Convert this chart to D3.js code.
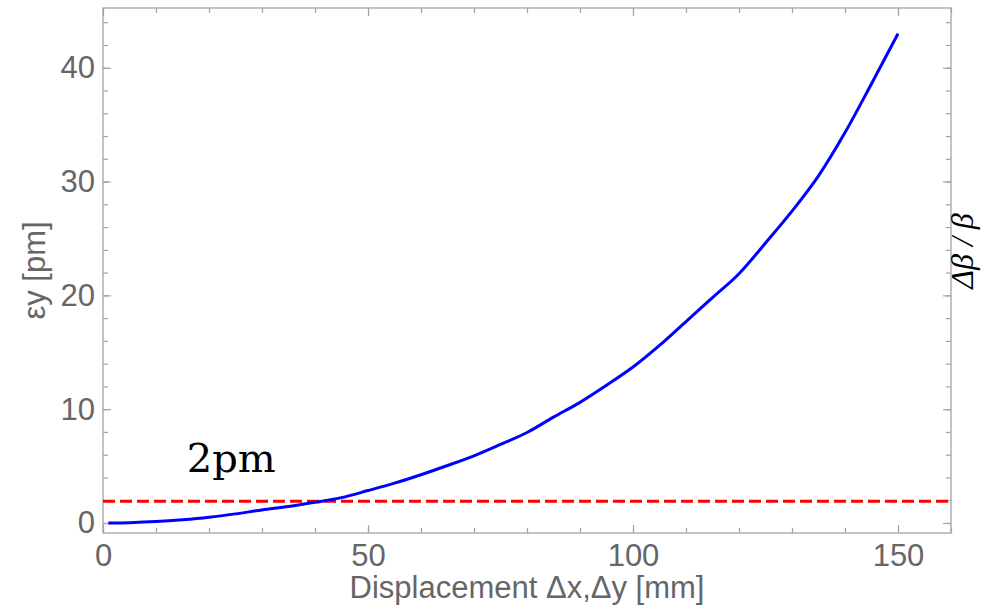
<!DOCTYPE html>
<html lang="en">
<head>
<meta charset="UTF-8">
<title>Emittance vs displacement</title>
<style>
  body { margin: 0; background: #fff; }
  .tick text { font-family: "Liberation Sans", Arial, sans-serif; }
</style>
</head>
<body>
<div id="chart"></div>
<script src="https://d3js.org/d3.v7.min.js"></script>
<script>
// displacement [mm] and vertical emittance [pm]
var displacement = [1, 5, 10, 15, 20, 25, 30, 35, 40, 45, 50, 55, 60, 65, 70, 75,
                    80, 85, 90, 95, 100, 105, 110, 115, 120, 125, 130, 135, 140, 145, 150];
var emittance = [0.0, 0.03, 0.12, 0.28, 0.5, 0.8, 1.15, 1.45, 1.82, 2.23, 2.85, 3.5, 4.24, 5.05, 5.9, 6.9,
                 7.95, 9.3, 10.6, 12.1, 13.7, 15.6, 17.7, 19.8, 21.9, 24.6, 27.4, 30.5, 34.3, 38.6, 43.0];
var limit = 1.9;

var xTicks = [0, 50, 100, 150];
var xMinor = [0, 10, 20, 30, 40, 50, 60, 70, 80, 90, 100, 110, 120, 130, 140, 150, 160];
var yTicks = [0, 10, 20, 30, 40];
var yMinor = [0, 2, 4, 6, 8, 10, 12, 14, 16, 18, 20, 22, 24, 26, 28, 30, 32, 34, 36, 38, 40, 42, 44];

var W = 981, H = 616;
var margin = {top: 8, right: 30, bottom: 83, left: 103};
var width = W - margin.left - margin.right,
    height = H - margin.top - margin.bottom;

var svg = d3.select("#chart").append("svg")
    .attr("width", W).attr("height", H)
  .append("g")
    .attr("transform", "translate(" + margin.left + "," + margin.top + ")");

var x = d3.scaleLinear().domain([0, 160]).range([0, width]);
var y = d3.scaleLinear().domain([-0.88, 45.25]).range([height, 0]);

var frameColor = "#a3a3a3";

function styleAxis(g) {
  g.select(".domain").remove();
  g.selectAll(".tick line").attr("stroke", frameColor).attr("stroke-width", 1.2);
  g.selectAll(".tick text").attr("fill", "#666").style("font-size", "31px");
}

// minor ticks on all four sides
svg.append("g").attr("transform", "translate(0," + height + ")")
  .call(d3.axisBottom(x).tickValues(xMinor).tickSize(-5).tickFormat(""))
  .call(styleAxis);
svg.append("g")
  .call(d3.axisTop(x).tickValues(xMinor).tickSize(-5).tickFormat(""))
  .call(styleAxis);
svg.append("g")
  .call(d3.axisLeft(y).tickValues(yMinor).tickSize(-5).tickFormat(""))
  .call(styleAxis);
svg.append("g").attr("transform", "translate(" + width + ",0)")
  .call(d3.axisRight(y).tickValues(yMinor).tickSize(-5).tickFormat(""))
  .call(styleAxis);

// major ticks with labels
svg.append("g").attr("transform", "translate(0," + height + ")")
  .call(d3.axisBottom(x).tickValues(xTicks).tickSize(-8).tickPadding(11))
  .call(styleAxis)
  .selectAll(".tick text").attr("dy", "0.71em");
svg.append("g")
  .call(d3.axisTop(x).tickValues(xTicks).tickSize(-8).tickFormat(""))
  .call(styleAxis);
svg.append("g")
  .call(d3.axisLeft(y).tickValues(yTicks).tickSize(-8).tickPadding(8))
  .call(styleAxis);
svg.append("g").attr("transform", "translate(" + width + ",0)")
  .call(d3.axisRight(y).tickValues(yTicks).tickSize(-8).tickFormat(""))
  .call(styleAxis);

// frame
svg.append("rect")
  .attr("width", width).attr("height", height)
  .attr("fill", "none")
  .attr("stroke", frameColor)
  .attr("stroke-width", 1.3);

// 2 pm reference line
svg.append("line")
  .attr("x1", x(0)).attr("x2", x(160))
  .attr("y1", y(limit)).attr("y2", y(limit))
  .attr("stroke", "#ff0000")
  .attr("stroke-width", 3)
  .attr("stroke-dasharray", "12,5");

var line = d3.line()
  .x(function(d, i) { return x(displacement[i]); })
  .y(function(d) { return y(d); })
  .curve(d3.curveMonotoneX);

svg.append("path")
  .datum(emittance)
  .attr("d", line)
  .attr("fill", "none")
  .attr("stroke", "#0000ff")
  .attr("stroke-width", 3);

svg.append("text")
  .attr("x", x(15.8)).attr("y", y(limit) - 29)
  .attr("font-family", "DejaVu Serif, serif")
  .attr("font-size", "40px")
  .attr("fill", "#000")
  .text("2pm");

// axis labels
svg.append("text")
  .attr("x", width / 2).attr("y", height + 65)
  .attr("text-anchor", "middle")
  .attr("font-family", "Liberation Sans, Arial, sans-serif")
  .attr("font-size", "31px")
  .attr("fill", "#666")
  .text("Displacement \u0394x,\u0394y [mm]");

svg.append("text")
  .attr("transform", "translate(" + (45 - margin.left) + "," + (height / 2) + ") rotate(-90)")
  .attr("text-anchor", "middle")
  .attr("font-family", "Liberation Sans, Arial, sans-serif")
  .attr("font-size", "31px")
  .attr("fill", "#666")
  .text("\u03b5y [pm]");

svg.append("text")
  .attr("transform", "translate(" + (width + 22) + "," + (251 - margin.top) + ") rotate(-90)")
  .attr("text-anchor", "middle")
  .attr("font-family", "Liberation Serif, serif")
  .attr("font-style", "italic")
  .attr("font-size", "32px")
  .attr("fill", "#000")
  .text("\u0394\u03b2 / \u03b2");
</script>
</body>
</html>
